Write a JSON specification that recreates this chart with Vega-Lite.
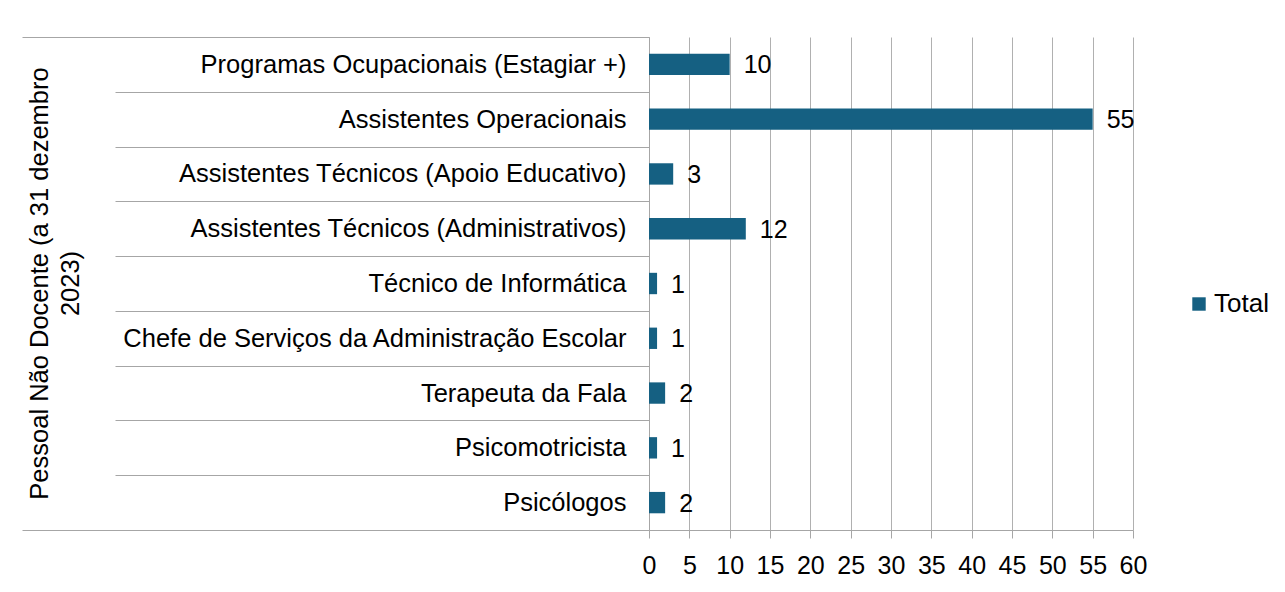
{
  "$schema": "https://vega.github.io/schema/vega-lite/v6.json",
  "width": 484,
  "height": 493,
  "autosize": {"type": "none"},
  "padding": {"left": 649, "top": 37, "right": 152, "bottom": 62},
  "background": "white",
  "config": {
    "view": {"stroke": null},
    "font": "Liberation Sans",
    "axis": {"labelColor": "#000000", "titleColor": "#000000", "domainColor": "#a6a6a6", "tickColor": "#a6a6a6", "gridColor": "#b0b0b0"}
  },
  "data": {
    "values": [
      {"categoria": "Programas Ocupacionais (Estagiar +)", "valor": 10, "serie": "Total", "grupo": "Pessoal Não Docente (a 31 dezembro 2023)"},
      {"categoria": "Assistentes Operacionais", "valor": 55, "serie": "Total", "grupo": "Pessoal Não Docente (a 31 dezembro 2023)"},
      {"categoria": "Assistentes Técnicos (Apoio Educativo)", "valor": 3, "serie": "Total", "grupo": "Pessoal Não Docente (a 31 dezembro 2023)"},
      {"categoria": "Assistentes Técnicos (Administrativos)", "valor": 12, "serie": "Total", "grupo": "Pessoal Não Docente (a 31 dezembro 2023)"},
      {"categoria": "Técnico de Informática", "valor": 1, "serie": "Total", "grupo": "Pessoal Não Docente (a 31 dezembro 2023)"},
      {"categoria": "Chefe de Serviços da Administração Escolar", "valor": 1, "serie": "Total", "grupo": "Pessoal Não Docente (a 31 dezembro 2023)"},
      {"categoria": "Terapeuta da Fala", "valor": 2, "serie": "Total", "grupo": "Pessoal Não Docente (a 31 dezembro 2023)"},
      {"categoria": "Psicomotricista", "valor": 1, "serie": "Total", "grupo": "Pessoal Não Docente (a 31 dezembro 2023)"},
      {"categoria": "Psicólogos", "valor": 2, "serie": "Total", "grupo": "Pessoal Não Docente (a 31 dezembro 2023)"}
    ]
  },
  "layer": [
    {
      "layer": [
        {
          "mark": {"type": "bar", "height": {"band": 0.39}},
          "encoding": {
            "y": {
              "field": "categoria", "type": "nominal", "sort": null,
              "scale": {"paddingInner": 0, "paddingOuter": 0},
              "axis": {
                "title": null, "orient": "left", "tickBand": "extent", "tickSize": 534, "labelPadding": -511,
                "labelFontSize": 25.5, "labelLimit": 700, "domain": true, "grid": false
              }
            },
            "x": {
              "field": "valor", "type": "quantitative",
              "scale": {"domain": [0, 60], "nice": false},
              "axis": {
                "title": null, "values": [0, 5, 10, 15, 20, 25, 30, 35, 40, 45, 50, 55, 60],
                "tickSize": 8, "labelPadding": 15, "labelFontSize": 25, "grid": true, "labelFlush": false, "labelOverlap": false
              }
            },
            "color": {
              "field": "serie", "type": "nominal",
              "scale": {"range": ["#156082"]},
              "legend": {
                "title": null, "orient": "none", "legendX": 537, "legendY": 254, "symbolType": "square", "symbolSize": 180,
                "symbolStrokeWidth": 0, "labelFontSize": 26, "labelColor": "#000000", "padding": 0, "labelOffset": 2
              }
            }
          }
        },
        {
          "mark": {"type": "text", "align": "left", "baseline": "middle", "dx": 14, "dy": 1, "fontSize": 25, "color": "#000000"},
          "encoding": {
            "y": {"field": "categoria", "type": "nominal", "sort": null},
            "x": {"field": "valor", "type": "quantitative"},
            "text": {"field": "valor", "type": "quantitative"}
          }
        }
      ]
    },
    {
      "mark": {"type": "point", "opacity": 0},
      "encoding": {
        "y": {
          "field": "grupo", "type": "nominal",
          "scale": {"paddingInner": 0, "paddingOuter": 0},
          "axis": {
            "orient": "left", "tickBand": "extent", "tickSize": 627, "labels": false, "domain": false, "grid": false,
            "title": ["Pessoal Não Docente (a 31 dezembro", "2023)"], "titleAngle": -90, "titleFontSize": 25.5, "titleFontWeight": "normal",
            "titleX": -622, "titleY": 246, "titleAlign": "center", "titleBaseline": "top", "titleLineHeight": 31
          }
        }
      }
    }
  ],
  "resolve": {"scale": {"y": "independent"}, "axis": {"y": "independent"}}
}
